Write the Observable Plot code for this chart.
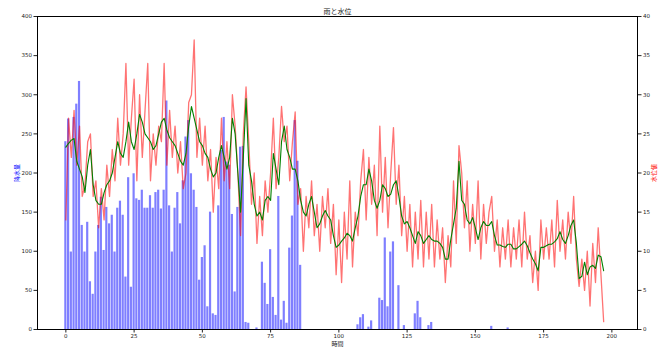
<!DOCTYPE html>
<html>
<head>
<meta charset="utf-8">
<script src="https://cdn.jsdelivr.net/npm/d3@7"></script>
<script src="https://cdn.jsdelivr.net/npm/@observablehq/plot@0.6"></script>
<style>
html,body{margin:0;padding:0;background:#fff;}
#chart{width:667px;height:350px;overflow:hidden;}
</style>
</head>
<body>
<div id="chart"></div>
<script>
// ---- data ----
const titleText = "雨と水位";
const xLabel = "時間";
const leftLabel = "降水量";
const rightLabel = "水位値";

const xTicks = [0, 25, 50, 75, 100, 125, 150, 175, 200];
const leftTicks = [0, 50, 100, 150, 200, 250, 300, 350, 400];
const rightTicks = [0, 5, 10, 15, 20, 25, 30, 35, 40];

// daily rainfall (left axis), days 0..199
const rain = [
  240,269,99,271,288,317,133,99,137,61,
  45,99,133,169,101,156,135,146,99,155,
  164,146,67,194,54,199,167,165,178,155,
  155,171,155,175,178,154,178,292,158,99,
  155,175,135,190,246,267,199,178,156,63,
  92,107,29,150,20,18,158,229,271,214,
  210,147,48,156,233,234,9,8,0,0,
  2,0,86,59,32,102,41,18,170,12,
  36,8,104,145,267,215,82,0,0,0,
  0,0,0,0,0,0,0,0,0,0,
  0,0,0,0,0,0,0,6,15,19,
  0,3,11,0,0,40,37,117,29,99,
  112,0,56,0,5,0,0,0,20,36,
  15,0,0,5,9,0,0,0,0,0,
  0,0,0,0,0,0,0,0,0,0,
  0,0,0,0,0,0,4,0,0,0,
  0,0,2,0,0,0,0,0,0,0,
  0,0,0,0,0,0,0,0,0,0,
  0,0,0,0,0,0,0,0,0,0,
  0,0,0,0,0,0,0,0,0,0
];

// water level (right axis), days 0..197
const level = [
  14,27,22,28,21,26,17,18.5,24,25,
  17,19,13,18,14,21,17,23,19,27,
  21,25,34,21,27,32,19,30,22,28,
  34,19,25,21,26,24,34,21,28,22,
  26,20,24,18,20,29,30,37,22,27,
  21,26,19,23,15,22,18,27,19,24,
  18,30,26,20,12,25,31,24,16,20,
  11,17,12,19,15,20,27,18,22,28.5,
  24,26,19,24,27.8,16,18,10,17,13,
  19,12,16,10,17,13,18,11,16,7,
  14,6,15,9,19,8,15,12,19,23,
  14,22,16,21,12,26,15,22,13,20,
  25.8,16,21,12,17,10,16,8,15,9,
  16.5,8,15,9,16,8,14,9,13,6,
  12,8,19,11,23.5,20,13,19,10,16,
  11,19,9,16,11,15,17,10,14,8,
  13,9,14,8,13,9,14,8,15,9,
  12,6,10,5,14,9,13,9,14,8,
  16.5,10,14,9,15,11,17,9,5.5,9,
  5,10,3,11,6,13,7,1
];

// smoothed water level (right axis), days 0..197
const smooth = [
  23.3,23.8,24.2,24.4,21.5,20.5,19.5,17.5,21,23,
  18.5,16.5,16,16,17.5,18.5,19,20,22,24,
  22.5,22,24,26.5,24,23,25,27.5,26.5,25,
  24.5,24,23,23.5,25,26.5,27,25.5,24.5,24,
  23.5,22.5,21.5,21,22.5,26,28.5,27,25.5,24,
  23.5,22.5,22,20.5,19.5,20,22,23.5,22,20.5,
  22,27,25,20,15,22,29.5,21,19,16,
  14.5,15,14,16.5,17,16.5,22.5,20.5,18.5,24,
  26,23,22,20.5,20.5,19,16.5,15,14.5,16,
  17,15,13,13.5,14.5,15.2,14.5,14,12,10.5,
  10.8,11.3,11.7,12.3,12,11.3,13,14.5,17,18.5,
  18.5,20.5,19,16.5,15.5,16.5,18.5,18,17,17.3,
  18.5,19,17,14.5,13.5,13.8,13,12,11,12.5,
  12,11,11.5,12,11.5,11.3,11.3,11,10.5,9,
  9,11.5,13.5,15.5,21.5,16.5,16,14,13.5,14.3,
  13,11.5,13,13.8,13.3,13.3,13.8,12,10.8,10.8,
  10.6,10.5,10.9,10.9,10.3,10.3,10.6,10.9,11.3,10.7,
  9.8,9,8.4,7.5,10.5,10.5,10.7,10.9,10.9,11.2,
  11.6,12.5,11.5,11,12,13.3,14,11,6.5,6.8,
  8.6,7,8,8.2,7.8,9.5,9.3,7.5
];

// ---- build tables ----
const rainData = rain.map((v, i) => ({day: i, v})).filter(d => d.v > 0);
const levelData = level.map((v, i) => ({day: i, v}));
const smoothData = smooth.map((v, i) => ({day: i, v}));
const ratio = 10; // right axis (0–40) shares the left scale (0–400)

const cjk = "'Noto Sans CJK JP', 'Noto Sans CJK SC', sans-serif";

const chart = Plot.plot({
  width: 667,
  height: 350,
  marginLeft: 37,
  marginRight: 30,
  marginTop: 16,
  marginBottom: 21,
  style: {fontFamily: "'DejaVu Sans', sans-serif", fontSize: "5.5px", background: "#fff", color: "#222"},
  x: {domain: [-10.39, 209.39]},
  y: {domain: [0, 400]},
  marks: [
    Plot.rect(rainData, {x1: d => d.day - 0.4, x2: d => d.day + 0.4, y1: 0, y2: "v", fill: "blue", fillOpacity: 0.5}),
    Plot.line(levelData, {x: "day", y: d => d.v * ratio, stroke: "red", strokeOpacity: 0.55, strokeWidth: 1.3}),
    Plot.line(smoothData, {x: "day", y: d => d.v * ratio, stroke: "green", strokeWidth: 1.1}),
    Plot.axisX({ticks: xTicks, tickSize: 3.5, tickPadding: 1, label: null, fontSize: 5.5, fill: "#222"}),
    Plot.axisY({ticks: leftTicks, tickSize: 3.5, tickPadding: 2, label: null, fontSize: 5.5, fill: "#222"}),
    Plot.axisY({anchor: "right", ticks: rightTicks.map(t => t * ratio), tickFormat: d => String(d / ratio), tickSize: 3.5, tickPadding: 2, label: null, fontSize: 5.5, fill: "#222"}),
    Plot.frame({stroke: "black", strokeWidth: 1}),
    Plot.text([titleText], {frameAnchor: "top", dy: -7, text: d => d, fontSize: 7, fontFamily: cjk, fill: "#222"}),
    Plot.text([xLabel], {frameAnchor: "bottom", dy: 16.5, text: d => d, fontSize: 6, fontFamily: cjk, fill: "#222"}),
    Plot.text([leftLabel], {frameAnchor: "left", dx: -20, rotate: -90, textAnchor: "middle", text: d => d, fontSize: 6, fontFamily: cjk, fill: "blue"}),
    Plot.text([rightLabel], {frameAnchor: "right", dx: 17, rotate: -90, textAnchor: "middle", text: d => d, fontSize: 6, fontFamily: cjk, fill: "red"})
  ]
});
document.getElementById("chart").appendChild(chart);
</script>
</body>
</html>
